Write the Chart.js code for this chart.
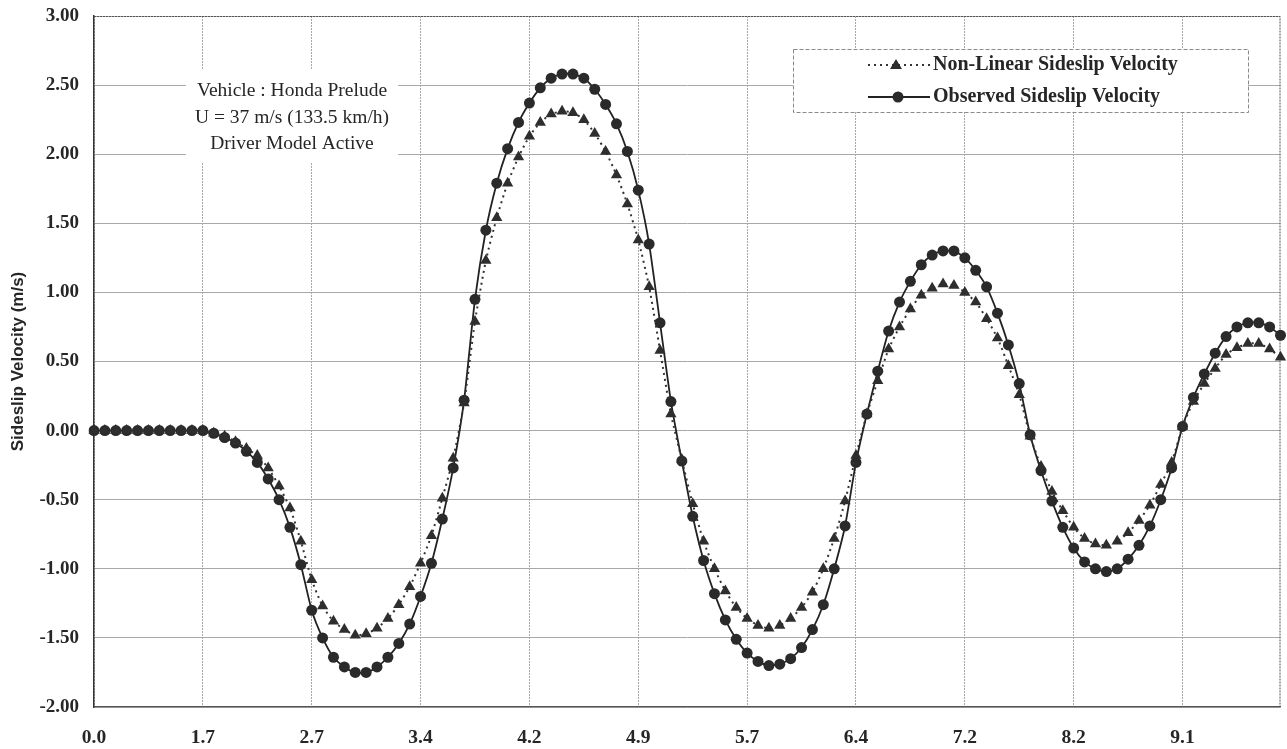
<!DOCTYPE html>
<html lang="en">
<head>
<meta charset="UTF-8">
<title>Sideslip Velocity</title>
<style>
  body { margin: 0; background: #fff; }
  #chart { display: block; }
</style>
</head>
<body>
<canvas id="chart" width="1287" height="749"></canvas>
<script src="https://cdn.jsdelivr.net/npm/chart.js"></script>
<script>
// time (s) shown under every 10th sample
const timeTicks = ['0.0', '1.7', '2.7', '3.4', '4.2', '4.9', '5.7', '6.4', '7.2', '8.2', '9.1'];

// sideslip velocity (m/s), one value per sample
const nonLinear = [
  0, 0, 0, 0, 0, 0, 0, 0, 0, 0,
  0, -0.02, -0.04, -0.08, -0.13, -0.18, -0.27, -0.40, -0.56, -0.80,
  -1.08, -1.27, -1.38, -1.44, -1.48, -1.47, -1.43, -1.36, -1.26, -1.13,
  -0.96, -0.76, -0.49, -0.20, 0.20, 0.79, 1.23, 1.54, 1.79, 1.98,
  2.13, 2.23, 2.29, 2.31, 2.30, 2.25, 2.15, 2.02, 1.85, 1.64,
  1.38, 1.04, 0.58, 0.12, -0.21, -0.53, -0.80, -1.00, -1.16, -1.28,
  -1.36, -1.41, -1.43, -1.41, -1.36, -1.28, -1.17, -1.00, -0.78, -0.51,
  -0.18, 0.12, 0.36, 0.59, 0.75, 0.88, 0.98, 1.03, 1.06, 1.05,
  1.00, 0.93, 0.81, 0.67, 0.47, 0.26, -0.04, -0.26, -0.44, -0.58,
  -0.70, -0.78, -0.82, -0.83, -0.80, -0.74, -0.65, -0.54, -0.39, -0.23,
  0.03, 0.21, 0.34, 0.45, 0.55, 0.60, 0.63, 0.63, 0.59, 0.53
];
const observed = [
  0, 0, 0, 0, 0, 0, 0, 0, 0, 0,
  0, -0.02, -0.05, -0.09, -0.15, -0.23, -0.35, -0.50, -0.70, -0.97,
  -1.30, -1.50, -1.64, -1.71, -1.75, -1.75, -1.71, -1.64, -1.54, -1.40,
  -1.20, -0.96, -0.64, -0.27, 0.22, 0.95, 1.45, 1.79, 2.04, 2.23,
  2.37, 2.48, 2.55, 2.58, 2.58, 2.55, 2.47, 2.36, 2.22, 2.02,
  1.74, 1.35, 0.78, 0.21, -0.22, -0.62, -0.94, -1.18, -1.37, -1.51,
  -1.61, -1.67, -1.70, -1.69, -1.65, -1.57, -1.44, -1.26, -1.00, -0.69,
  -0.23, 0.12, 0.43, 0.72, 0.93, 1.08, 1.20, 1.27, 1.30, 1.30,
  1.25, 1.16, 1.04, 0.85, 0.62, 0.34, -0.03, -0.29, -0.51, -0.70,
  -0.85, -0.95, -1.00, -1.02, -1.00, -0.93, -0.83, -0.69, -0.50, -0.27,
  0.03, 0.24, 0.41, 0.56, 0.68, 0.75, 0.78, 0.78, 0.75, 0.69
];

const seriesNames = ['Non-Linear Sideslip Velocity', 'Observed Sideslip Velocity'];
const infoLines = ['Vehicle : Honda Prelude', 'U = 37 m/s (133.5 km/h)', 'Driver Model Active'];

const labels = observed.map((v, i) => (i % 10 === 0 ? timeTicks[i / 10] : ''));

const serif = '"Liberation Serif", "Times New Roman", serif';
const sans = '"Liberation Sans", Arial, sans-serif';
const ink = '#262626';

// plot frame, the info box and the boxed legend
const extras = {
  id: 'extras',
  beforeDatasetsDraw(chart) {
    const ctx = chart.ctx;
    const a = chart.chartArea;
    ctx.save();
    ctx.strokeStyle = '#555';
    ctx.lineWidth = 1;
    ctx.setLineDash([2, 1]);
    ctx.beginPath();
    ctx.moveTo(a.left, a.top + 0.5);
    ctx.lineTo(a.right - 0.5, a.top + 0.5);
    ctx.lineTo(a.right - 0.5, a.bottom);
    ctx.stroke();
    ctx.restore();
  },
  afterDraw(chart) {
    const ctx = chart.ctx;
    ctx.save();

    // vehicle info
    ctx.fillStyle = '#fff';
    ctx.fillRect(186, 70, 212, 93);
    ctx.fillStyle = ink;
    ctx.font = '19.5px ' + serif;
    ctx.textAlign = 'center';
    ctx.textBaseline = 'middle';
    infoLines.forEach((t, i) => ctx.fillText(t, 292, 91 + i * 26.5));

    // legend
    const bx = 793, by = 49, bw = 455, bh = 63;
    ctx.fillStyle = '#fff';
    ctx.fillRect(bx, by, bw, bh);
    ctx.strokeStyle = '#8a8a8a';
    ctx.lineWidth = 1;
    ctx.setLineDash([4, 2]);
    ctx.strokeRect(bx + 0.5, by + 0.5, bw, bh);

    const rows = [65, 97];
    chart.data.datasets.forEach((ds, i) => {
      const y = rows[i];
      ctx.strokeStyle = ds.borderColor;
      ctx.lineWidth = ds.borderWidth;
      ctx.setLineDash(ds.borderDash || []);
      ctx.beginPath();
      ctx.moveTo(868, y);
      ctx.lineTo(930, y);
      ctx.stroke();
      ctx.setLineDash([]);
      ctx.fillStyle = ds.pointBackgroundColor;
      ctx.beginPath();
      if (ds.pointStyle === 'triangle') {
        ctx.moveTo(896, y - 6);
        ctx.lineTo(902, y + 4);
        ctx.lineTo(890, y + 4);
        ctx.closePath();
      } else {
        ctx.arc(898, y, 5.5, 0, Math.PI * 2);
      }
      ctx.fill();
      ctx.fillStyle = ink;
      ctx.font = 'bold 20px ' + serif;
      ctx.textAlign = 'left';
      ctx.fillText(ds.label, 933, y);
    });
    ctx.restore();
  }
};

new Chart(document.getElementById('chart'), {
  type: 'line',
  data: {
    labels: labels,
    datasets: [
      {
        label: seriesNames[0],
        data: nonLinear,
        borderColor: '#333',
        borderWidth: 2,
        borderDash: [2, 4],
        pointStyle: 'triangle',
        pointRadius: 6.5,
        pointBackgroundColor: '#2e2e2e',
        pointBorderColor: '#2e2e2e',
        pointBorderWidth: 0,
        tension: 0.2
      },
      {
        label: seriesNames[1],
        data: observed,
        borderColor: '#222',
        borderWidth: 1.8,
        pointStyle: 'circle',
        pointRadius: 5.5,
        pointBackgroundColor: '#2a2a2a',
        pointBorderColor: '#2a2a2a',
        pointBorderWidth: 0,
        tension: 0.2
      }
    ]
  },
  options: {
    responsive: false,
    animation: false,
    layout: { padding: { top: 16, right: 2, left: 0, bottom: 0 } },
    plugins: {
      legend: { display: false },
      tooltip: { enabled: false }
    },
    scales: {
      x: {
        type: 'category',
        offset: false,
        afterFit: s => { s.height = 42; },
        grid: { color: '#a8a8a8', lineWidth: 1, drawTicks: false },
        border: { color: '#555', width: 1.2, dash: [2, 1] },
        ticks: {
          autoSkip: false,
          maxRotation: 0,
          padding: 19,
          color: ink,
          font: { family: serif, size: 19.5, weight: 'bold' },
          callback: function (val) {
            const l = this.getLabelForValue(val);
            return l === '' ? null : l;
          }
        }
      },
      y: {
        min: -2,
        max: 3,
        afterFit: s => { s.width = 94; s.paddingTop = 0; s.paddingBottom = 0; },
        grid: { color: '#a8a8a8', lineWidth: 1, drawTicks: false },
        border: { color: '#333', width: 1.5 },
        ticks: {
          stepSize: 0.5,
          padding: 15,
          color: ink,
          font: { family: serif, size: 19, weight: 'bold' },
          callback: v => v.toFixed(2)
        },
        title: {
          display: true,
          text: 'Sideslip Velocity (m/s)',
          color: ink,
          font: { family: sans, size: 17, weight: 'bold' },
          padding: { top: 8, bottom: 0 }
        }
      }
    }
  },
  plugins: [extras]
});
</script>
</body>
</html>
